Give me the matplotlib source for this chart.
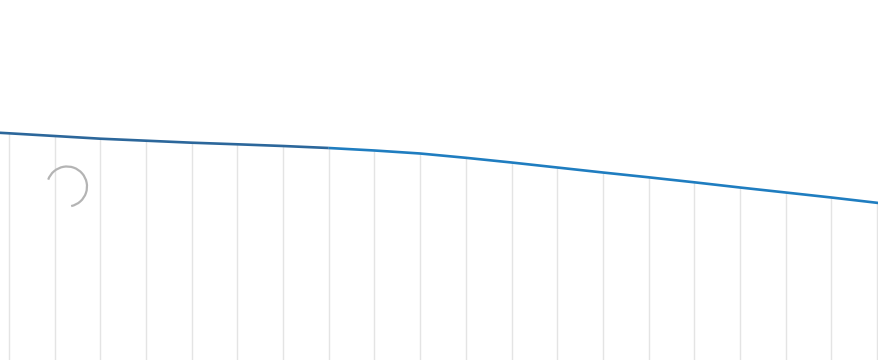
import numpy as np
import matplotlib
matplotlib.use("Agg")
import matplotlib.pyplot as plt
from matplotlib.patches import Arc

# grid-line positions (index) and height of the blue line there (px from bottom, 360 high)
grid_x = list(range(20))
line_top = [226.7, 224.0, 221.3, 219.3, 217.3, 215.7, 214.0, 212.0, 209.5, 206.5,
            202.2, 197.5, 192.5, 187.5, 182.7, 177.7, 172.5, 167.5, 162.5, 157.2]

# the blue line runs a bit past the outer grid lines
edge_x = [-0.2, 19.05]
edge_y = [227.2, 156.9]

fig = plt.figure(figsize=(8.79, 3.6), dpi=100)
ax = fig.add_axes([0, 0, 1, 1])
ax.set_xlim(-0.197, 19.044)
ax.set_ylim(0, 360)
ax.axis("off")

# vertical ruling below the line
ax.vlines(grid_x, 0, line_top, color="#e4e4e4", lw=1.0, zorder=1)

lx = np.array([edge_x[0]] + grid_x + [edge_x[1]])
ly = np.array([edge_y[0]] + line_top + [edge_y[1]])

# scan makes the left half darker than the right
split = 8
ax.plot(lx[:split + 1], ly[:split + 1], color="#2c679b", lw=1.9, zorder=3,
        solid_capstyle="butt")
ax.plot(lx[split:], ly[split:], color="#1f7dc0", lw=1.9, zorder=3,
        solid_capstyle="butt")

# punch-hole ring, drawn on a pixel-scaled overlay so it stays round
ov = fig.add_axes([0, 0, 1, 1], facecolor="none")
ov.set_xlim(0, 879)
ov.set_ylim(360, 0)
ov.axis("off")
ov.add_patch(Arc((67, 186.5), 40, 40, theta1=-160, theta2=78,
                 color="#b4b4b4", lw=1.6))

fig.savefig("out.png", dpi=100)
